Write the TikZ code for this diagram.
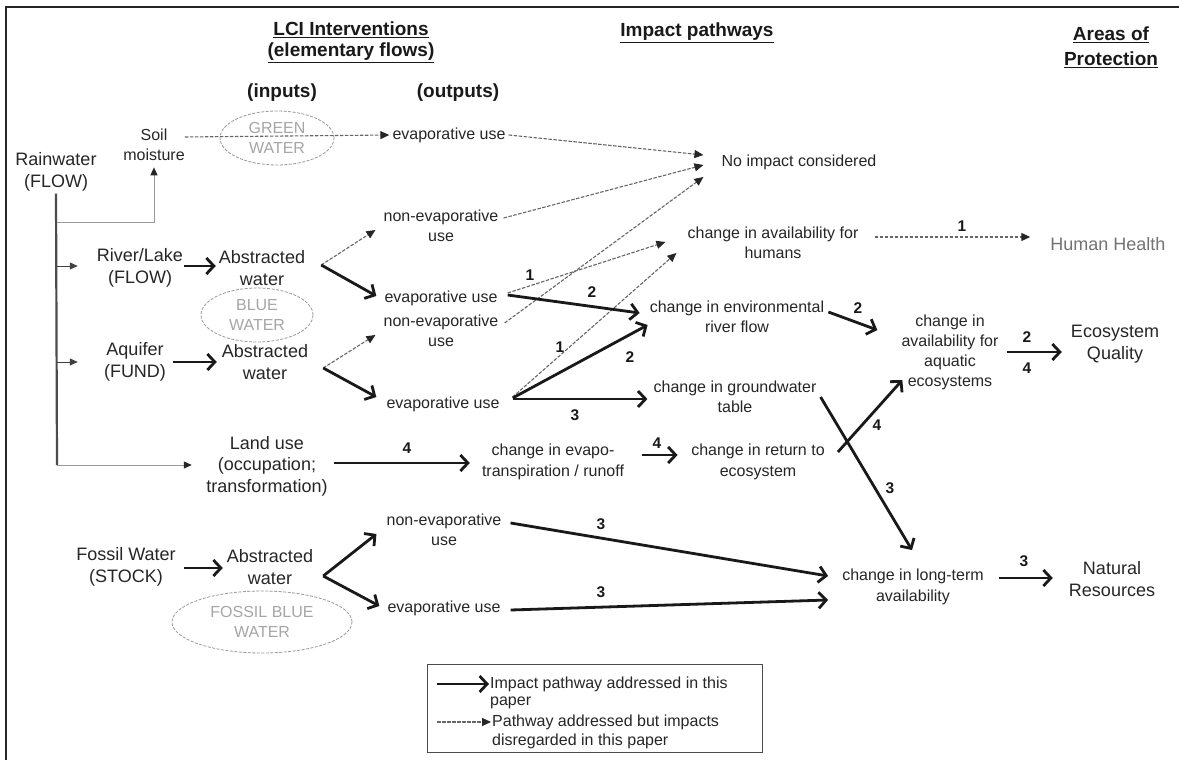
\documentclass[tikz,border=0pt]{standalone}
\usepackage{fontspec}
\setmainfont{Liberation Sans}
\usetikzlibrary{arrows.meta,shapes.geometric}
\begin{document}
\begin{tikzpicture}[x=1pt,y=-1pt,
 txt/.style={font=\fontsize{16}{20.5}\selectfont, align=center, inner sep=0pt, text=black!85},
 bigt/.style={font=\fontsize{18}{22}\selectfont, align=center, inner sep=0pt, text=black!85},
 head/.style={font=\fontsize{19}{21}\selectfont\bfseries, align=center, inner sep=0pt, text=black!90},
 lbl/.style={font=\fontsize{15.5}{15.5}\selectfont\bfseries, inner sep=0pt, text=black!90},
 sarr/.style={line width=2.8pt, draw=black!90, -{Straight Barb[length=7.5pt,width=16pt]}},
 darr/.style={line width=1.1pt, draw=black!60, dash pattern=on 3.5pt off 1.5pt, -{Triangle[length=9pt,width=8pt,color=black!85]}},
 wat/.style={ellipse, draw=black!40, dash pattern=on 3pt off 1.5pt, line width=0.8pt, inner sep=0pt, font=\fontsize{16}{20}\selectfont, align=center, text=black!35},
 rline/.style={line width=1pt, draw=black!75, -{Triangle[length=8pt,width=7pt]}},
 gline/.style={line width=1pt, draw=black!40, -{Triangle[length=8pt,width=7pt,color=black!85]}}
]
\useasboundingbox (0,0) rectangle (1179,760);
\fill[white] (0,0) rectangle (1179,760);
% frame
\draw[line width=2pt, black!85] (6,760) -- (6,7) -- (1179,7);

% headings
\node[head] (h1) at (351,42) {\underline{LCI Interventions}\\\underline{(elementary flows)}};
\node[head] (h2) at (697,33) {\underline{Impact pathways}};
\node[head, font=\fontsize{19}{25}\selectfont\bfseries] (h3) at (1111,47) {\underline{Areas of}\\\underline{Protection}};
\node[head] (inp) at (282,93) {(inputs)};
\node[head] (outp) at (458,93) {(outputs)};

% ellipses
\node[wat, minimum width=114pt, minimum height=54pt] (green) at (277,138) {GREEN\\WATER};
\node[wat, minimum width=112pt, minimum height=54pt] (blue) at (257,315) {BLUE\\WATER};
\node[wat, minimum width=180pt, minimum height=62pt] (fblue) at (262,622) {FOSSIL BLUE\\WATER};

% left column
\node[bigt] (rain) at (56,172) {Rainwater\\(FLOW)};
\node[txt] (soil) at (154,145) {Soil\\moisture};
\node[bigt] (river) at (140,268) {River/Lake\\(FLOW)};
\node[bigt] (abs1) at (262,268) {Abstracted\\water};
\node[bigt] (aquifer) at (135,362) {Aquifer\\(FUND)};
\node[bigt] (abs2) at (265,362) {Abstracted\\water};
\node[bigt, font=\fontsize{18}{21.5}\selectfont] (land) at (267,466) {Land use\\(occupation;\\transformation)};
\node[bigt] (fossil) at (126,567) {Fossil Water\\(STOCK)};
\node[bigt] (abs3) at (270,567) {Abstracted\\water};

% outputs
\node[txt] (evapG) at (449,135) {evaporative use};
\node[txt] (nonevap1) at (441,226) {non-evaporative\\use};
\node[txt] (evapB) at (441,298) {evaporative use};
\node[txt] (nonevap2) at (441,331) {non-evaporative\\use};
\node[txt] (evapA) at (443,404) {evaporative use};
\node[txt] (nonevapF) at (444,530) {non-evaporative\\use};
\node[txt] (evapF) at (444,608) {evaporative use};

% impact pathways
\node[txt] (noimp) at (799,162) {No impact considered};
\node[txt] (humans) at (773,243) {change in availability for\\humans};
\node[txt] (rflow) at (737,317) {change in environmental\\river flow};
\node[txt] (gw) at (735,397) {change in groundwater\\table};
\node[txt] (evapo) at (553,462) {change in evapo-\\transpiration / runoff};
\node[txt] (ret) at (758,462) {change in return to\\ecosystem};
\node[txt, font=\fontsize{16}{20}\selectfont] (aquatic) at (950,352) {change in\\availability for\\aquatic\\ecosystems};
\node[txt] (lt) at (913,587) {change in long-term\\availability};

% areas of protection
\node[bigt, text=black!55] (HH) at (1108,244) {Human Health};
\node[bigt] (EQ) at (1115,344) {Ecosystem\\Quality};
\node[bigt] (NR) at (1112,579) {Natural\\Resources};

% rainwater distribution
\coordinate (r1) at (57,222);
\coordinate (r2) at (57,266);
\coordinate (r3) at (57,362);
\coordinate (rbot) at (57,465);
\draw[line width=2.2pt, black!70] ([yshift=-2pt]rain.south) -- (rbot);
\draw[gline] (r1) -| ([yshift=-6pt]soil.south);
\draw[rline] (r2) -- ([xshift=-19pt,yshift=2pt]river.west);
\draw[rline] (r3) -- ([xshift=-26pt]aquifer.west);
\draw[gline] (rbot) -- ([xshift=-14.5pt,yshift=1pt]land.west);

% inputs to abstraction
\draw[sarr] ([xshift=1pt,yshift=2pt]river.east) -- ([xshift=-3pt,yshift=2pt]abs1.west);
\draw[sarr] ([xshift=7pt]aquifer.east) -- ([xshift=-5pt]abs2.west);
\draw[sarr] ([xshift=8pt,yshift=-1pt]fossil.east) -- ([xshift=-4pt,yshift=-1pt]abs3.west);

% green water
\draw[darr] ([yshift=8pt]soil.east) -- ([xshift=-3pt]evapG.west);

% abstracted water to uses
\draw[darr] ([xshift=16pt,yshift=3pt]abs1.east) -- ([xshift=-8pt,yshift=-4pt]nonevap1.west);
\draw[sarr] ([xshift=16pt,yshift=3pt]abs1.east) -- ([xshift=-8pt,yshift=2pt]evapB.west);
\draw[darr] ([xshift=15pt,yshift=-6pt]abs2.east) -- ([xshift=-8pt,yshift=-4pt]nonevap2.west);
\draw[sarr] ([xshift=15pt,yshift=-6pt]abs2.east) -- ([xshift=-10pt,yshift=7pt]evapA.west);
\draw[sarr] ([xshift=10pt,yshift=-9pt]abs3.east) -- ([xshift=-10pt,yshift=-4pt]nonevapF.west);
\draw[sarr] ([xshift=10pt,yshift=-9pt]abs3.east) -- ([xshift=-8pt,yshift=2pt]evapF.west);

% to no impact
\draw[darr] ([xshift=3pt]evapG.east) -- ([xshift=-18pt,yshift=7pt]noimp.west);
\draw[darr] ([xshift=5pt,yshift=8pt]nonevap1.east) -- ([xshift=-18pt,yshift=-3pt]noimp.west);
\draw[darr] ([xshift=6pt,yshift=8pt]nonevap2.east) -- ([xshift=-18pt,yshift=-15pt]noimp.west);

% to humans
\draw[darr] ([xshift=10pt,yshift=5pt]evapB.east) -- ([xshift=-22pt,yshift=1pt]humans.west);
\draw[darr] ([xshift=13pt,yshift=7pt]evapA.east) -- ([xshift=-11pt,yshift=-10pt]humans.west);

% to river flow, groundwater
\draw[sarr] ([xshift=10pt,yshift=3pt]evapB.east) -- ([xshift=-10pt,yshift=4pt]rflow.west);
\draw[sarr] ([xshift=13pt,yshift=6pt]evapA.east) -- ([xshift=-2pt,yshift=-8pt]rflow.west);
\draw[sarr] ([xshift=13pt,yshift=5pt]evapA.east) -- ([xshift=-6pt,yshift=-2pt]gw.west);

% land use chain
\draw[sarr] ([xshift=6pt,yshift=3pt]land.east) -- ([xshift=-12pt,yshift=-1pt]evapo.west);
\draw[sarr] ([xshift=18pt,yshift=7pt]evapo.east) -- ([xshift=-13.5pt,yshift=7pt]ret.west);

% midpoints to endpoints
\draw[darr] ([xshift=16pt,yshift=6pt]humans.east) -- ([xshift=-20pt,yshift=7pt]HH.west);
\draw[sarr] ([xshift=4pt,yshift=5pt]rflow.east) -- ([xshift=-24pt,yshift=22pt]aquatic.west);
\draw[sarr] ([xshift=13pt,yshift=10pt]ret.east) -- ([xshift=1pt,yshift=-28pt]aquatic.west);
\draw[sarr] ([xshift=4pt]gw.east) -- ([xshift=-1pt,yshift=19pt]lt.north);
\draw[sarr] ([xshift=9pt,yshift=7pt]nonevapF.east) -- ([xshift=-14pt,yshift=11pt]lt.west);
\draw[sarr] ([xshift=10pt,yshift=-2pt]evapF.east) -- ([xshift=-14pt,yshift=-13pt]lt.west);
\draw[sarr] ([xshift=15pt,yshift=9pt]lt.east) -- ([xshift=-16pt,yshift=1pt]NR.west);
\draw[sarr] ([xshift=8pt]aquatic.east) -- ([xshift=-9pt,yshift=-8pt]EQ.west);

% labels
\node[lbl] (l1) at (530,275) {1};
\node[lbl] (l2) at (592,292) {2};
\node[lbl] (l3) at (560,347) {1};
\node[lbl] (l4) at (630,357) {2};
\node[lbl] (l5) at (575,415) {3};
\node[lbl] (l6) at (407,448) {4};
\node[lbl] (l7) at (657,443) {4};
\node[lbl] (l8) at (858,308) {2};
\node[lbl] (l9) at (877,425) {4};
\node[lbl] (l10) at (890,488) {3};
\node[lbl] (l11) at (1027,337) {2};
\node[lbl] (l12) at (1027,368) {4};
\node[lbl] (l13) at (1024,561) {3};
\node[lbl] (l14) at (601,524) {3};
\node[lbl] (l15) at (601,592) {3};
\node[lbl] (l16) at (962,226) {1};

% legend
\draw[line width=1pt, black!70] (427,664) rectangle (762,752);
\node[txt, anchor=west] (lg1) at (490,684) {Impact pathway addressed in this};
\node[txt, anchor=west] (lg1b) at (490,703) {paper};
\node[txt, anchor=west] (lg2) at (492,722) {Pathway addressed but impacts};
\node[txt, anchor=west] (lg2b) at (492,741) {disregarded in this paper};
\coordinate (lga) at (437,684);
\coordinate (lgb) at (437,722);
\draw[sarr] (lga) -- ([xshift=-1pt]lg1.west);
\draw[darr] (lgb) -- ([xshift=-1pt]lg2.west);
\end{tikzpicture}
\end{document}
